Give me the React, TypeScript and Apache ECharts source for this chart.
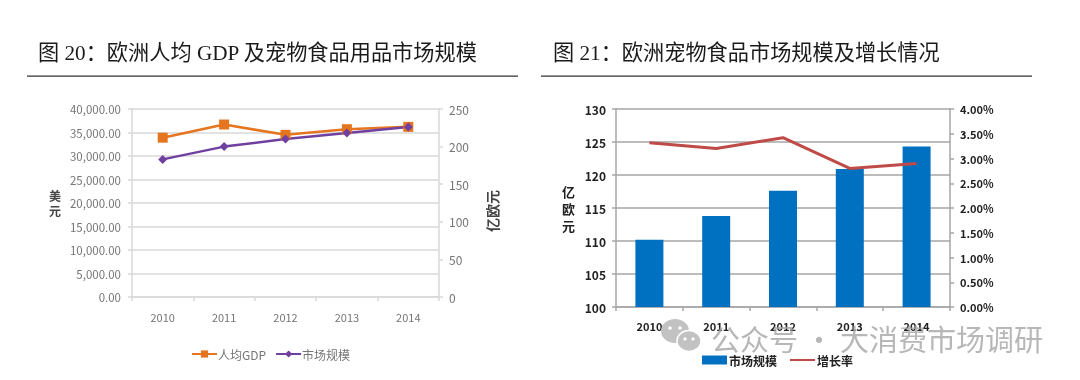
import React, { useEffect, useRef } from "react";
import * as echarts from "echarts";

const years = ["2010", "2011", "2012", "2013", "2014"];
const gdpPerCapita = [33900, 36700, 34500, 35700, 36200];
const petMarketA = [183, 200, 210, 218, 226];
const petFoodMarket = [110.2, 113.8, 117.6, 120.9, 124.3];
const growthRate = [3.32, 3.2, 3.42, 2.8, 2.9];

const titleA = "图 20：欧洲人均 GDP 及宠物食品用品市场规模";
const titleB = "图 21：欧洲宠物食品市场规模及增长情况";
const watermark = "公众号 · 大消费市场调研";

const SERIF = '"Liberation Serif","Noto Sans CJK SC",serif';
const SANS = '"Noto Sans CJK SC","Liberation Sans",sans-serif';
const GREY = "#757575";
const DARK = "#222222";
const GRID_A = "#d9d9d9";
const GRID_B = "#a6a6a6";

function axisBase(color: string, lineColor: string, width: number) {
  return {
    axisLine: { show: true, lineStyle: { color: lineColor, width } },
    axisTick: { show: true, length: 4, lineStyle: { color: lineColor, width } },
    axisLabel: { color, fontSize: 11, fontFamily: SANS },
  };
}

export default function App() {
  const ref = useRef<HTMLDivElement>(null);
  useEffect(() => {
    const chart = echarts.init(ref.current!, undefined, { renderer: "svg" });
    const a = axisBase(GREY, GRID_A, 1.5);
    const b = axisBase(DARK, GRID_B, 1.5);
    chart.setOption({
      animation: false,
      backgroundColor: "#ffffff",
      grid: [
        { left: 132, top: 109, width: 307, height: 188 },
        { left: 616, top: 109, width: 334, height: 198 },
      ],
      legend: [
        {
          left: 186, top: 343, itemWidth: 25, itemHeight: 9, itemGap: 9,
          data: ["人均GDP", "市场规模A"],
          formatter: (n: string) => n.replace("A", ""),
          textStyle: { color: GREY, fontSize: 12, fontFamily: SANS, padding: [0, 0, 0, -4] },
        },
        {
          left: 697, top: 349, itemWidth: 25, itemHeight: 9, itemGap: 12,
          data: [{ name: "市场规模", icon: "rect" }, { name: "增长率", itemStyle: { opacity: 0 } }],
          textStyle: { color: DARK, fontSize: 12, fontWeight: "bold", fontFamily: SANS, padding: [0, 0, 0, -3] },
        },
      ],
      xAxis: [
        { type: "category", gridIndex: 0, data: years, ...a,
          axisLabel: { ...a.axisLabel, margin: 14 } },
        { type: "category", gridIndex: 1, data: years, ...b,
          axisLabel: { ...b.axisLabel, margin: 13, fontWeight: "bold" } },
      ],
      yAxis: [
        { type: "value", gridIndex: 0, min: 0, max: 40000, interval: 5000, ...a,
          axisLabel: { ...a.axisLabel, margin: 11, fontSize: 11.5,
            formatter: (v: number) => v.toLocaleString("en-US", { minimumFractionDigits: 2, maximumFractionDigits: 2 }) },
          splitLine: { show: true, lineStyle: { color: GRID_A, width: 1.5 } },
          name: "美\n元", nameLocation: "middle", nameRotate: 0, nameGap: 71,
          nameTextStyle: { color: "#444444", fontSize: 12, fontWeight: "bold", fontFamily: SANS, lineHeight: 15, padding: [4, 0, 0, 0] } },
        { type: "value", gridIndex: 0, min: 0, max: 250, interval: 50, position: "right", ...a,
          axisLabel: { ...a.axisLabel, margin: 10, fontSize: 12 },
          splitLine: { show: false },
          name: "亿欧元", nameLocation: "middle", nameRotate: 90, nameGap: 46,
          nameTextStyle: { color: "#444444", fontSize: 14, fontWeight: "bold", fontFamily: SANS, padding: [0, 16, 0, 0] } },
        { type: "value", gridIndex: 1, min: 100, max: 130, interval: 5, ...b,
          axisLabel: { ...b.axisLabel, margin: 10, fontSize: 12, fontWeight: "bold" },
          splitLine: { show: true, lineStyle: { color: GRID_B, width: 1.5 } },
          name: "亿\n欧\n元", nameLocation: "middle", nameRotate: 0, nameGap: 41,
          nameTextStyle: { color: DARK, fontSize: 13, fontWeight: "bold", fontFamily: SANS, lineHeight: 17 } },
        { type: "value", gridIndex: 1, min: 0, max: 4, interval: 0.5, position: "right", ...b,
          axisLabel: { ...b.axisLabel, margin: 10, fontWeight: "bold",
            formatter: (v: number) => v.toFixed(2) + "%" },
          splitLine: { show: false } },
      ],
      series: [
        { name: "人均GDP", type: "line", xAxisIndex: 0, yAxisIndex: 0, data: gdpPerCapita,
          symbol: "rect", symbolSize: 10, lineStyle: { color: "#e5751f", width: 2.5 },
          itemStyle: { color: "#e5751f" } },
        { name: "市场规模A", type: "line", xAxisIndex: 0, yAxisIndex: 1, data: petMarketA,
          symbol: "diamond", symbolSize: 9, lineStyle: { color: "#7040a0", width: 2.5 },
          itemStyle: { color: "#7040a0" } },
        { name: "市场规模", type: "bar", xAxisIndex: 1, yAxisIndex: 2, data: petFoodMarket,
          barWidth: 28, itemStyle: { color: "#0070c0" } },
        { name: "增长率", type: "line", xAxisIndex: 1, yAxisIndex: 3, data: growthRate,
          symbol: "none", lineStyle: { color: "#be4b48", width: 3 },
          itemStyle: { color: "#be4b48" } },
      ],
      graphic: [
        { type: "text", left: 38, top: 42, style: { text: titleA, fill: "#1a1a1a", font: `21.2px ${SERIF}` } },
        { type: "text", left: 553, top: 42, style: { text: titleB, fill: "#1a1a1a", font: `21.2px ${SERIF}` } },
        { type: "rect", shape: { x: 27, y: 75.5, width: 491, height: 1.2 }, style: { fill: "#333333" } },
        { type: "rect", shape: { x: 541, y: 75.5, width: 491, height: 1.2 }, style: { fill: "#333333" } },
        { type: "ellipse", shape: { cx: 675, cy: 331, rx: 14, ry: 12 }, style: { fill: "#c2c2c2" }, z: 20 },
        { type: "ellipse", shape: { cx: 689, cy: 341, rx: 12, ry: 10.5 }, style: { fill: "#c2c2c2", stroke: "#ffffff", lineWidth: 1.5 }, z: 21 },
        { type: "circle", shape: { cx: 670, cy: 328, r: 1.8 }, style: { fill: "#ffffff" }, z: 22 },
        { type: "circle", shape: { cx: 680, cy: 328, r: 1.8 }, style: { fill: "#ffffff" }, z: 22 },
        { type: "circle", shape: { cx: 685, cy: 339, r: 1.6 }, style: { fill: "#ffffff" }, z: 22 },
        { type: "circle", shape: { cx: 693, cy: 339, r: 1.6 }, style: { fill: "#ffffff" }, z: 22 },
        { type: "text", left: 711, top: 323, z: 20,
          style: { text: watermark, fill: "rgba(165,165,165,0.8)", font: `29px ${SANS}` } },
      ],
    });
    return () => chart.dispose();
  }, []);
  return (
    <div
      ref={ref}
      style={{ position: "fixed", left: 0, top: 0, width: 1080, height: 380, background: "#fff", filter: "blur(0.4px)" }}
    />
  );
}
